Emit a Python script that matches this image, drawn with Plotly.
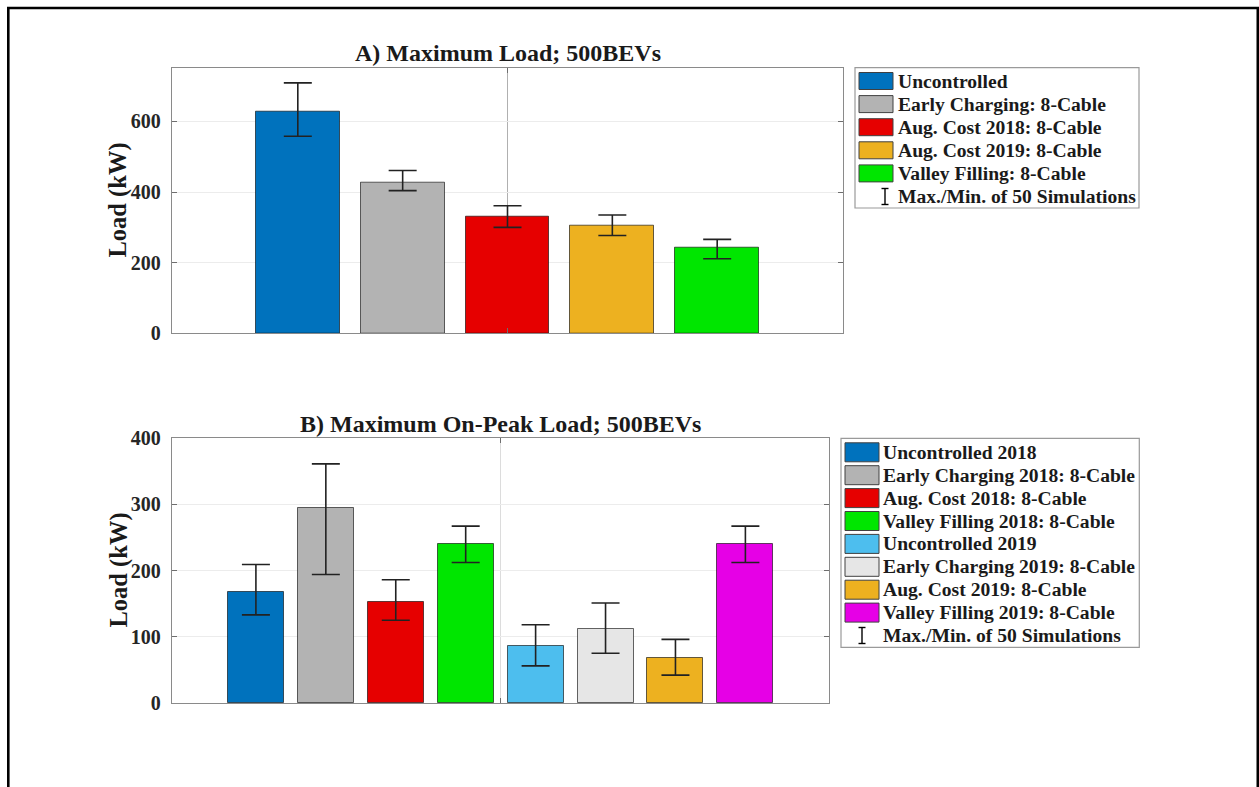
import plotly.graph_objects as go

# ---- Panel A: maximum load, 500 BEVs ----
a_names = ["Uncontrolled", "Early Charging: 8-Cable", "Aug. Cost 2018: 8-Cable",
           "Aug. Cost 2019: 8-Cable", "Valley Filling: 8-Cable"]
a_load = [627, 427, 331, 305, 242]
a_max = [709, 461, 361, 335, 266]
a_min = [558, 404, 300, 277, 211]
a_colors = ["#0072BD", "#B3B3B3", "#E60000", "#EDB120", "#00E600"]

# ---- Panel B: maximum on-peak load, 500 BEVs ----
b_names = ["Uncontrolled 2018", "Early Charging 2018: 8-Cable", "Aug. Cost 2018: 8-Cable",
           "Valley Filling 2018: 8-Cable", "Uncontrolled 2019", "Early Charging 2019: 8-Cable",
           "Aug. Cost 2019: 8-Cable", "Valley Filling 2019: 8-Cable"]
b_load = [167, 294, 153, 240, 86, 111, 68, 240]
b_max = [209, 361, 186, 267, 118, 151, 96, 267]
b_min = [133, 194, 125, 212, 56, 75, 42, 212]
b_colors = ["#0072BD", "#B3B3B3", "#E60000", "#00E600", "#4DBEEE", "#E6E6E6", "#EDB120", "#E600E6"]

errbar_label = "Max./Min. of 50 Simulations"
title_a = "A) Maximum Load; 500BEVs"
title_b = "B) Maximum On-Peak Load; 500BEVs"
y_label = "Load (kW)"

W, H = 1259, 787
FONT = "Liberation Serif"


def px(x):
    return x / W


def py(y):
    return 1 - y / H


fig = go.Figure()


def add_panel(xref, yref, load, vmax, vmin, colors):
    xs = list(range(1, len(load) + 1))
    fig.add_trace(go.Bar(
        x=xs, y=load, width=0.8, xaxis=xref, yaxis=yref,
        marker=dict(color=colors, line=dict(color="rgba(0,0,0,0.6)", width=1)),
        error_y=dict(type="data", symmetric=False,
                     array=[m - v for m, v in zip(vmax, load)],
                     arrayminus=[v - m for v, m in zip(load, vmin)],
                     color="#222222", thickness=1.6, width=14),
        showlegend=False, hoverinfo="skip",
    ))


add_panel("x", "y", a_load, a_max, a_min, a_colors)
add_panel("x2", "y2", b_load, b_max, b_min, b_colors)

axis_common = dict(showline=True, linecolor="#8a8a8a", linewidth=1.3, mirror="ticks",
                   ticks="inside", ticklen=5, tickcolor="#6e6e6e", zeroline=False,
                   automargin=False)
tickfont = dict(family=FONT, size=20, color="#262626", weight="bold")

fig.update_layout(
    width=W, height=H,
    margin=dict(l=0, r=0, t=0, b=0, pad=0, autoexpand=False),
    paper_bgcolor="white", plot_bgcolor="white",
    bargap=0,
    xaxis=dict(domain=[px(172), px(843)], range=[-0.2, 6.2], tickvals=[3],
               showticklabels=False, showgrid=True, gridcolor="#b0b0b0", gridwidth=1,
               anchor="y", **axis_common),
    yaxis=dict(domain=[py(333.3), py(67.7)], range=[0, 752], tickvals=[0, 200, 400, 600],
               showgrid=True, gridcolor="#ececec", gridwidth=1, tickfont=tickfont,
               ticklabelstandoff=6, anchor="x", **axis_common),
    xaxis2=dict(domain=[px(172), px(829.3)], range=[-0.2, 9.2], tickvals=[4.5],
                showticklabels=False, showgrid=True, gridcolor="#dcdcdc", gridwidth=1,
                anchor="y2", **axis_common),
    yaxis2=dict(domain=[py(703), py(438)], range=[0, 400], tickvals=[0, 100, 200, 300, 400],
                showgrid=True, gridcolor="#ececec", gridwidth=1, tickfont=tickfont,
                ticklabelstandoff=6, anchor="x2", **axis_common),
)

shapes = []
annotations = []

# figure frame
shapes.append(dict(type="rect", xref="paper", yref="paper",
                   x0=px(8.3), x1=px(1257.8), y0=-0.2, y1=py(8),
                   line=dict(color="black", width=2.6), fillcolor="rgba(0,0,0,0)"))

# titles and y labels
for title, cx, cy in [(title_a, 507.5, 52.5), (title_b, 500.6, 423.7)]:
    annotations.append(dict(text=title, xref="paper", yref="paper", x=px(cx), y=py(cy),
                            xanchor="center", yanchor="middle", showarrow=False,
                            font=dict(family=FONT, size=24, color="#1a1a1a", weight="bold")))
for cy in [200.5, 570.5]:
    annotations.append(dict(text=y_label, xref="paper", yref="paper", x=px(118), y=py(cy),
                            xanchor="center", yanchor="middle", showarrow=False, textangle=-90,
                            font=dict(family=FONT, size=24.5, color="#1a1a1a", weight="bold")))


def add_legend(names, colors, box, row0, step, sw_x0, sw_x1, sw_h, text_x, ibeam_x):
    bx0, bx1, by0, by1 = box
    shapes.append(dict(type="rect", xref="paper", yref="paper",
                       x0=px(bx0), x1=px(bx1), y0=py(by1), y1=py(by0),
                       line=dict(color="#9a9a9a", width=1.2), fillcolor="white"))
    labels = list(names) + [errbar_label]
    for i, lab in enumerate(labels):
        cy = row0 + i * step
        if i < len(names):
            shapes.append(dict(type="rect", xref="paper", yref="paper",
                               x0=px(sw_x0), x1=px(sw_x1),
                               y0=py(cy + sw_h / 2), y1=py(cy - sw_h / 2),
                               line=dict(color="#404040", width=1), fillcolor=colors[i]))
        else:
            h = 8
            shapes.append(dict(type="line", xref="paper", yref="paper",
                               x0=px(ibeam_x), x1=px(ibeam_x), y0=py(cy + h), y1=py(cy - h),
                               line=dict(color="black", width=1.4)))
            for yy in (cy - h, cy + h):
                shapes.append(dict(type="line", xref="paper", yref="paper",
                                   x0=px(ibeam_x - 3.5), x1=px(ibeam_x + 3.5),
                                   y0=py(yy), y1=py(yy),
                                   line=dict(color="black", width=1.4)))
        annotations.append(dict(text=lab, xref="paper", yref="paper", x=px(text_x), y=py(cy),
                                xanchor="left", yanchor="middle", showarrow=False,
                                font=dict(family=FONT, size=19.6, color="#1a1a1a", weight="bold")))


add_legend(a_names, a_colors, (855, 1139, 67.7, 208), 81, 23.1, 859, 893, 17, 896, 885)
add_legend(b_names, b_colors, (841, 1139.3, 438.3, 647.3), 452.3, 22.9, 845, 879, 19, 881, 862)

fig.update_layout(shapes=shapes, annotations=annotations)

# let the fixed-size figure sit flush in the page, without the default body margin
page_js = ("document.documentElement.style.margin='0';"
           "document.body.style.margin='0';"
           "document.body.style.overflow='hidden';")
fig.write_html("out.html", post_script=page_js)
